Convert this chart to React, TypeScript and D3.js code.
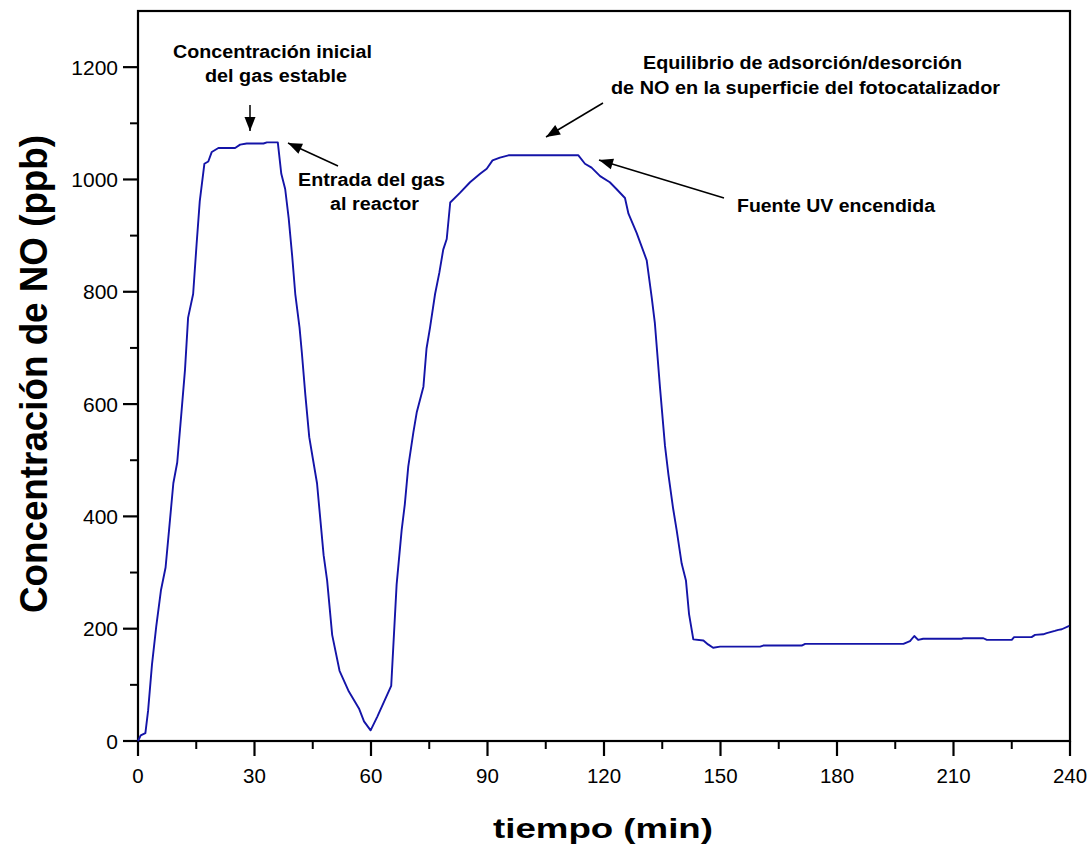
import React from "react";
import * as d3 from "d3";

const timeMin: number[] = [
  0, 0.7, 1.9, 2.6, 3.6, 4.7, 5.9, 7.1, 8.0, 9.1, 10.1, 11.2, 12.1, 12.9, 14.2, 15.1, 15.9,
  17.1, 18.1, 19.0, 20.7, 25.0, 26.3, 28.0, 32.3, 33.2, 36.0, 36.9, 37.9, 38.8, 39.7, 40.5,
  41.6, 42.2, 43.1, 44.1, 45.0, 46.1, 47.0, 47.8, 48.7, 50.0, 51.9, 54.3, 56.9, 58.2, 59.9,
  61.6, 65.2, 66.6, 67.9, 68.7, 69.6, 70.9, 71.8, 73.5, 74.3, 75.2, 76.5, 77.6, 78.6, 79.5,
  80.4, 82.9, 85.5, 88.1, 89.8, 91.3, 93.2, 95.4, 113.4, 115.1, 116.8, 119.0, 121.5, 123.2,
  125.4, 126.3, 128.4, 131.0, 132.3, 133.1, 134.4, 135.7, 136.6, 137.8, 138.7, 140.0, 141.1,
  141.9, 143.0, 145.6, 146.8, 148.1, 149.9, 160.2, 161.0, 170.9, 171.8, 197.1, 198.8, 199.9,
  200.9, 202.2, 212.1, 212.5, 217.7, 218.6, 225.0, 225.6, 230.1, 231.0, 233.1, 234.0, 236.1,
  237.0, 237.9, 239.8,
];

const noPpb: number[] = [
  0, 10, 14, 54, 136, 204, 268, 309, 376, 459, 496, 586, 661, 754, 796, 886, 961,
  1028, 1032, 1049, 1056, 1056, 1062, 1064, 1064, 1066, 1066, 1010, 983, 931, 864, 796,
  736, 691, 616, 541, 504, 459, 391, 331, 286, 189, 125, 88, 58, 35, 19,
  43, 98, 279, 376, 421, 489, 549, 586, 631, 699, 736, 796, 834, 875, 894,
  959, 976, 995, 1010, 1019, 1034, 1039, 1043, 1043, 1028, 1021, 1006, 995, 983,
  967, 939, 905, 856, 789, 744, 631, 526, 474, 414, 376, 316, 286,
  226, 181, 179, 172, 166, 168, 168, 170, 170, 173, 173, 178, 187,
  180, 182, 182, 183, 183, 180, 180, 185, 185, 189, 190, 192, 196,
  198, 199, 205,
];

const xMajorTicks: number[] = [0, 30, 60, 90, 120, 150, 180, 210, 240];
const xMinorTicks: number[] = [15, 45, 75, 105, 135, 165, 195, 225];
const yMajorTicks: number[] = [0, 200, 400, 600, 800, 1000, 1200];
const yMinorTicks: number[] = [100, 300, 500, 700, 900, 1100];

const xLabel = "tiempo (min)";
const yLabel = "Concentración de NO (ppb)";

type Note = { lines: string[]; widths: number[]; cx: number[]; base: number[]; from: [number, number]; to: [number, number] };
const notes: Note[] = [
  { lines: ["Concentración inicial", "del gas estable"], widths: [199, 142], cx: [272.5, 276], base: [58, 82], from: [250, 105], to: [250, 131] },
  { lines: ["Entrada del gas", "al reactor"], widths: [147, 89], cx: [371.5, 374.5], base: [186, 210], from: [338, 166], to: [288, 143] },
  { lines: ["Equilibrio de adsorción/desorción", "de NO en la superficie del fotocatalizador"], widths: [319, 389], cx: [802.5, 805.5], base: [69, 94], from: [603, 103], to: [546, 137] },
  { lines: ["Fuente UV encendida"], widths: [198], cx: [836], base: [212], from: [724, 198], to: [599, 160] },
];

export default function App() {
  const W = 1090, H = 845;
  const x = d3.scaleLinear().domain([0, 240]).range([138, 1070]);
  const y = d3.scaleLinear().domain([0, 1300]).range([741, 11]);
  const pts: [number, number][] = timeMin.map((t, i) => [t, noPpb[i]]);
  const line = d3.line<[number, number]>().x(d => x(d[0])).y(d => y(d[1]));
  const font = "'Liberation Sans', Arial, sans-serif";

  const arrowHead = (from: [number, number], to: [number, number]) => {
    const dx = to[0] - from[0], dy = to[1] - from[1];
    const len = Math.hypot(dx, dy);
    const ux = dx / len, uy = dy / len;
    const L = 14, Wd = 5.5;
    const bx = to[0] - ux * L, by = to[1] - uy * L;
    return `M${to[0]},${to[1]} L${bx - uy * Wd},${by + ux * Wd} L${bx + uy * Wd},${by - ux * Wd} Z`;
  };

  return (
    <svg width={W} height={H} style={{ position: "absolute", left: 0, top: 0, background: "#fff" }} fontFamily={font}>
      <rect x={0} y={0} width={W} height={H} fill="#fff" />
      {/* frame */}
      <rect x={x(0)} y={y(1300)} width={x(240) - x(0)} height={y(0) - y(1300)} fill="none" stroke="#000" strokeWidth={2.2} />
      {/* x ticks */}
      {xMajorTicks.map(t => (
        <g key={"xm" + t}>
          <line x1={x(t)} x2={x(t)} y1={y(0)} y2={y(0) + 15} stroke="#000" strokeWidth={2.2} />
          <text x={x(t)} y={783} textAnchor="middle" fontSize={20.5} fill="#000">{t}</text>
        </g>
      ))}
      {xMinorTicks.map(t => (
        <line key={"xn" + t} x1={x(t)} x2={x(t)} y1={y(0)} y2={y(0) + 8} stroke="#000" strokeWidth={2} />
      ))}
      {/* y ticks */}
      {yMajorTicks.map(v => (
        <g key={"ym" + v}>
          <line x1={x(0) - 15} x2={x(0)} y1={y(v)} y2={y(v)} stroke="#000" strokeWidth={2.2} />
          <text x={118} y={y(v) + 7.5} textAnchor="end" fontSize={21} fill="#000">{v}</text>
        </g>
      ))}
      {yMinorTicks.map(v => (
        <line key={"yn" + v} x1={x(0) - 8} x2={x(0)} y1={y(v)} y2={y(v)} stroke="#000" strokeWidth={2} />
      ))}
      {/* data line */}
      <path d={line(pts) || ""} fill="none" stroke="#1414a8" strokeWidth={1.9} strokeLinejoin="round" />
      {/* annotations */}
      {notes.map((n, i) => (
        <g key={"n" + i}>
          {n.lines.map((s, j) => (
            <text key={j} x={n.cx[j]} y={n.base[j]} textAnchor="middle" fontSize={18} fontWeight="bold" fill="#000"
              textLength={n.widths[j]} lengthAdjust="spacingAndGlyphs">{s}</text>
          ))}
          <line x1={n.from[0]} y1={n.from[1]} x2={n.to[0]} y2={n.to[1]} stroke="#000" strokeWidth={1.5} />
          <path d={arrowHead(n.from, n.to)} fill="#000" />
        </g>
      ))}
      {/* axis labels */}
      <text x={603} y={838} textAnchor="middle" fontSize={27} fontWeight="bold" fill="#000"
        textLength={220} lengthAdjust="spacingAndGlyphs">{xLabel}</text>
      <text transform={`translate(47,374) rotate(-90)`} x={0} y={0} textAnchor="middle" fontSize={38} fontWeight="bold" fill="#000"
        textLength={478} lengthAdjust="spacingAndGlyphs">{yLabel}</text>
    </svg>
  );
}
